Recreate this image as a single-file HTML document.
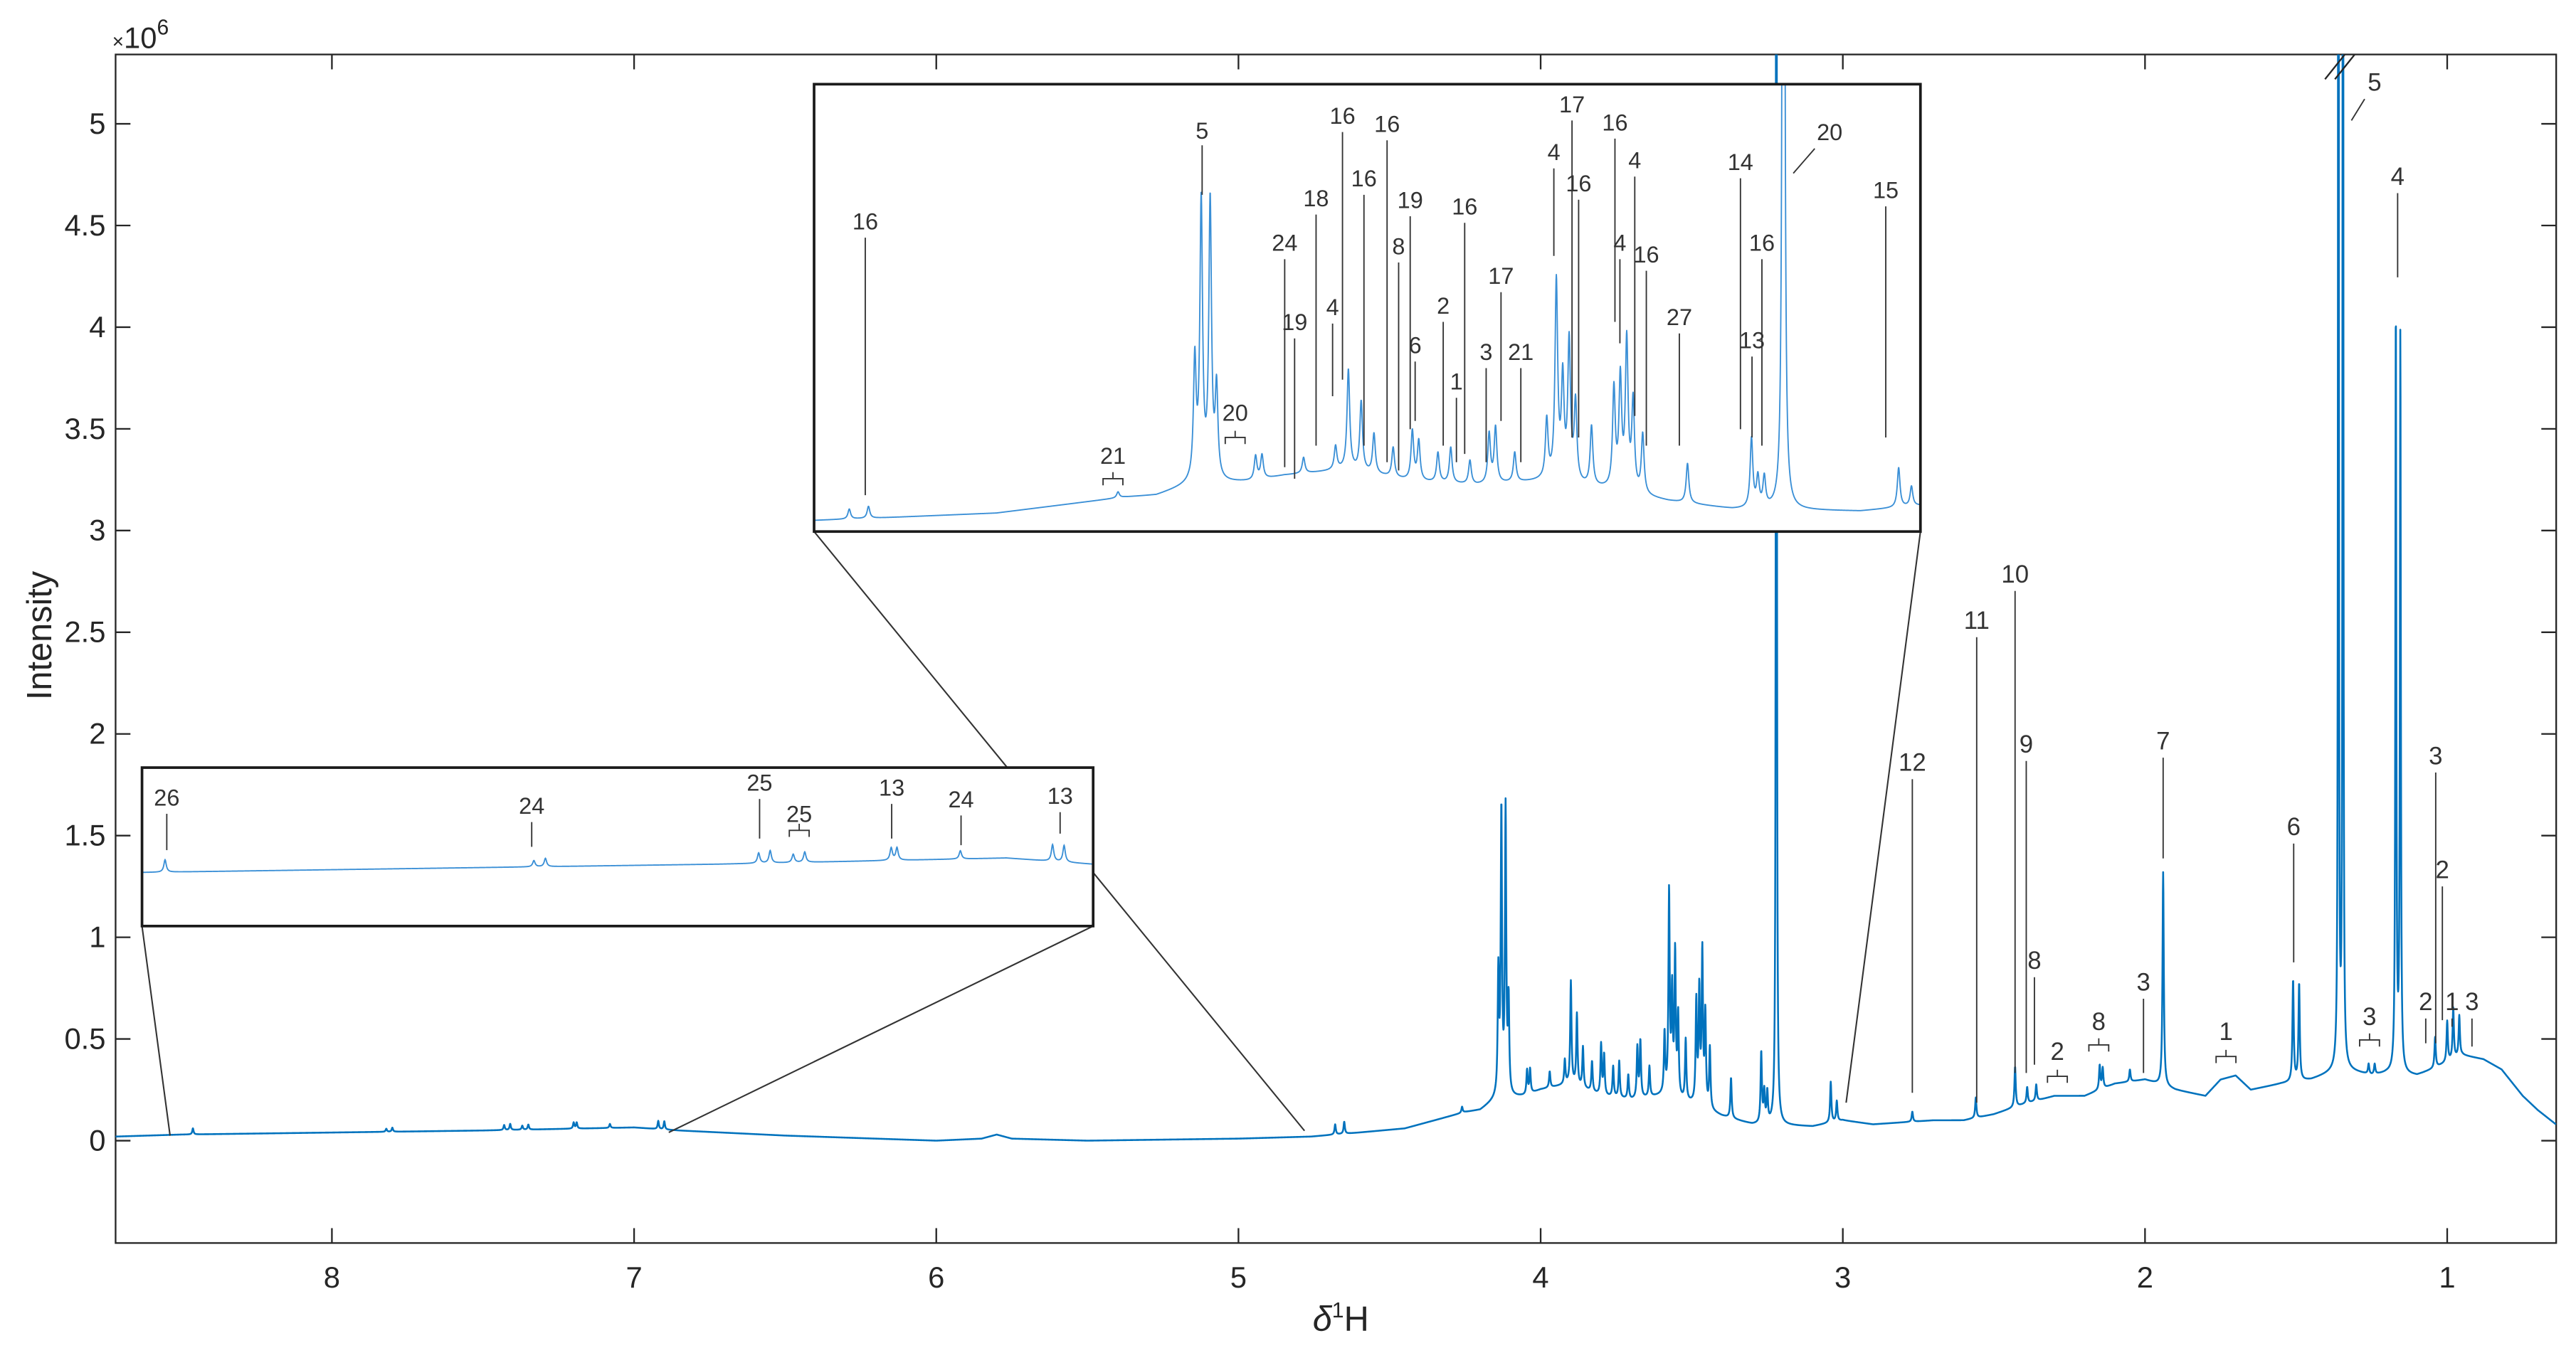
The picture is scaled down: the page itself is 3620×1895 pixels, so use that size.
<!DOCTYPE html>
<html><head><meta charset="utf-8"><title>1H NMR spectrum</title>
<style>
html,body{margin:0;padding:0;background:#fff}
svg{display:block}
text{font-family:"Liberation Sans",sans-serif;fill:#262626}
.ann{font-family:"Liberation Sans Narrow","Liberation Sans",sans-serif;fill:#333}
</style></head>
<body>
<svg id="chart" width="3620" height="1895" viewBox="0 0 1560 816.6" preserveAspectRatio="none" xmlns="http://www.w3.org/2000/svg">
<defs>
<clipPath id="mainClip"><rect x="70" y="33" width="1478" height="720"/></clipPath>
<clipPath id="topClip"><rect x="493" y="51" width="670" height="271"/></clipPath>
<clipPath id="botClip"><rect x="86" y="465" width="576" height="96"/></clipPath>
</defs>
<rect x="0" y="0" width="1560" height="816.6" fill="#fff"/>
<g id="axes"></g>
<g id="mainG" clip-path="url(#mainClip)"></g>
<g id="mainAnn"></g>
<g id="connectors"></g>
<g id="topInset"></g>
<g id="botInset"></g>
</svg>
<script>
// ---- data ----
const basePpm = [8.72,8.5,8.0,7.5,7.0,6.85,6.5,6.2,6.0,5.85,5.8,5.75,5.5,5.0,4.76,4.6,4.45,4.35,4.25,4.2,4.15,4.05,4.0,3.9,3.8,3.7,3.6,3.5,3.4,3.3,3.1,3.0,2.9,2.7,2.6,2.5,2.4,2.3,2.2,2.1,2.0,1.9,1.8,1.75,1.7,1.65,1.55,1.45,1.35,1.25,1.2,1.1,1.05,0.95,0.88,0.82,0.75,0.7,0.64];
const baseVal = [0.02,0.03,0.04,0.05,0.065,0.05,0.025,0.01,0.0,0.01,0.03,0.01,0.0,0.01,0.02,0.04,0.06,0.1,0.14,0.15,0.2,0.22,0.25,0.28,0.22,0.2,0.22,0.18,0.12,0.08,0.07,0.1,0.08,0.1,0.1,0.13,0.18,0.22,0.22,0.28,0.3,0.25,0.22,0.3,0.32,0.25,0.28,0.3,0.35,0.32,0.33,0.32,0.35,0.42,0.4,0.35,0.22,0.15,0.08];
const peakPpm = [8.46,7.82,7.8,7.43,7.41,7.37,7.35,7.2,7.19,7.08,6.92,6.9,
 4.68,4.65,4.26,4.14,4.13,4.116,4.106,4.045,4.035,3.97,3.92,3.90,3.88,3.86,3.83,3.80,3.79,3.76,3.74,3.71,3.68,3.67,3.64,
 3.59,3.575,3.565,3.555,3.545,3.52,3.485,3.475,3.465,3.455,3.44,3.37,3.27,3.26,3.25,3.22,3.04,3.02,
 2.77,2.56,2.43,2.39,2.36,2.15,2.14,2.05,1.94,1.51,1.49,1.36,1.345,1.26,1.24,1.17,1.155,1.04,1.0,0.98,0.96];
const peakHeight = [0.03,0.015,0.02,0.025,0.03,0.02,0.025,0.03,0.03,0.02,0.04,0.04,
 0.05,0.06,0.03,0.6,1.4,1.4,0.45,0.12,0.12,0.08,0.12,0.5,0.35,0.2,0.15,0.25,0.2,0.15,0.18,0.12,0.25,0.28,0.15,
 0.3,1.0,0.5,0.7,0.4,0.3,0.5,0.55,0.75,0.45,0.3,0.2,0.35,0.15,0.15,15,0.2,0.1,
 0.05,0.1,0.2,0.08,0.08,0.12,0.1,0.06,1.05,0.5,0.48,12,12,0.05,0.05,3.8,3.65,0.15,0.2,0.25,0.2];
const xTicks = [8,7,6,5,4,3,2,1];
const yTicks = [0,0.5,1,1.5,2,2.5,3,3.5,4,4.5,5];
const yTickLabels = ["0","0.5","1","1.5","2","2.5","3","3.5","4","4.5","5"];

// ---- scales ----
const NS="http://www.w3.org/2000/svg";
const xs = p => 201 + (8 - p) * 183;
const ys = v => 691 - v * 123.2;
const xt = p => 493 + (4.735 - p) * 387.5;
const yt = v => 318 - v * 120;
const xb = p => 86 + (8.5 - p) * 349;
const yb = v => 536 - v * 250;

function base(p){
  for(let i=0;i<basePpm.length-1;i++){
    if(p<=basePpm[i] && p>=basePpm[i+1]){
      const t=(basePpm[i]-p)/(basePpm[i]-basePpm[i+1]);
      return baseVal[i]+t*(baseVal[i+1]-baseVal[i]);
    }
  }
  return baseVal[baseVal.length-1];
}
function spec(p){
  let v=base(p);
  for(let i=0;i<peakPpm.length;i++){
    const w = peakHeight[i]>5?0.0011:(peakHeight[i]>2?0.0018:0.0025);
    const d=(p-peakPpm[i])/w;
    v+=peakHeight[i]/(1+d*d);
  }
  return v;
}
function el(tag,attrs,parent){
  const e=document.createElementNS(NS,tag);
  for(const k in attrs) e.setAttribute(k,attrs[k]);
  parent.appendChild(e); return e;
}
function pathFor(p0,p1,step,fx,fy){
  let d="";
  for(let p=p0;p>=p1;p-=step){
    d+=(d?"L":"M")+fx(p).toFixed(2)+","+fy(spec(p)).toFixed(2);
  }
  return d;
}

// ---- axes ----
const ax=document.getElementById('axes');
const frame=el('rect',{x:70,y:33,width:1478,height:720,fill:'none',stroke:'#262626','stroke-width':1},ax);


xTicks.forEach(t=>{
  const x=xs(t);
  const l=el('path',{d:`M${x},753V744M${x},33V42`,stroke:'#262626','stroke-width':1},ax);
  
  
  const tx=el('text',{x:x,y:780,'font-size':18,'text-anchor':'middle'},ax);
  tx.textContent=String(t);
  
  
});
yTicks.forEach((t,i)=>{
  const y=ys(t);
  const l=el('path',{d:`M70,${y}H79M1548,${y}H1539`,stroke:'#262626','stroke-width':1},ax);
  
  
  const tx=el('text',{x:64,y:y+6,'font-size':18,'text-anchor':'end'},ax);
  tx.textContent=yTickLabels[i];
  
  
});
const ex=el('text',{x:68,y:29,'font-size':18},ax);
ex.innerHTML='<tspan font-size="12">×</tspan>10<tspan dy="-8" font-size="13">6</tspan>';


const yl=el('text',{x:0,y:0,'font-size':21,'text-anchor':'middle',transform:'translate(31,385) rotate(-90)'},ax);
yl.textContent='Intensity';


const xl=el('text',{x:812,y:806,'font-size':21,'text-anchor':'middle'},ax);
xl.innerHTML='<tspan font-style="italic">δ</tspan><tspan dy="-8" font-size="13">1</tspan><tspan dy="8">H</tspan>';



// ---- main spectrum ----
const mg=document.getElementById('mainG');
const mp=el('path',{d:pathFor(8.72,0.64,0.0008,xs,ys),fill:'none',stroke:'#0072BD','stroke-width':1.1,'stroke-linejoin':'round'},mg);


// break marks
const br=el('path',{d:'M1408,48L1420,33M1414,48L1426,33',stroke:'#262626','stroke-width':1},document.getElementById('mainAnn'));



function annot(g,fx,p,label,ly,y1,y2,fs,type){
  const x=fx(p);
  const t=el('text',{x:x,y:ly,'font-size':fs,'text-anchor':'middle',class:'ann'},g);
  t.textContent=label;
  
  
  let d;
  if(type==='b'){ d=`M${x-6},${y1+4}V${y1}H${x+6}V${y1+4}M${x},${y1}V${y1-4}`; }
  else { d=`M${x},${y1}V${y2}`; }
  const l=el('path',{d:d,stroke:'#333','stroke-width':0.8,fill:'none'},g);
  
  
}
const ma=document.getElementById('mainAnn');
[[2.77,'12',467,472,662],[2.557,'11',381,386,668],[2.43,'10',353,358,650],[2.393,'9',456,461,650],[2.366,'8',587,592,645],
 [2.29,'2',642,652,0,'b'],[2.153,'8',624,633,0,'b'],[2.005,'3',600,605,650],[1.94,'7',454,459,520],[1.732,'1',630,640,0,'b'],
 [1.508,'6',506,511,583],[1.164,'4',112,117,168],[1.257,'3',621,630,0,'b'],[1.038,'3',463,468,632],[1.016,'2',532,537,618],
 [1.071,'2',612,617,632],[0.984,'1',612,617,622],[0.918,'3',612,617,634]
].forEach(a=>annot(ma,xs,a[0],a[1],a[2],a[3],a[4],15,a[5]));
const a5=el('text',{x:1438,y:55,'font-size':15,'text-anchor':'middle',class:'ann'},ma);
a5.textContent='5';


const a5l=el('path',{d:'M1432,60L1424,73',stroke:'#333','stroke-width':0.8},ma);



// ---- connectors ----
const cg=document.getElementById('connectors');
const cn=el('path',{d:'M493,322L790,685M1163,322L1118,668M86,561L103,688M662,561L405,686',stroke:'#333','stroke-width':0.9,fill:'none'},cg);



// ---- top inset ----
const tg=document.getElementById('topInset');
const tbg=el('rect',{x:493,y:51,width:670,height:271,fill:'#fff'},tg);


const tcl=el('g',{'clip-path':'url(#topClip)'},tg);
const tp=el('path',{d:pathFor(4.735,3.0,0.0004,xt,yt),fill:'none',stroke:'#3a8fd6','stroke-width':0.8,'stroke-linejoin':'round'},tcl);


const tfr=el('rect',{x:493,y:51,width:670,height:271,fill:'none',stroke:'#1a1a1a','stroke-width':1.6},tg);


const px=x=>4.735-(x-493)/387.5;
[[524,'16',139,144,300],[674,'21',281,290,0,'b'],[728,'5',84,88,118],[748,'20',255,265,0,'b'],[778,'24',152,157,283],
 [784,'19',200,205,290],[797,'18',125,130,270],[807,'4',191,196,240],[813,'16',75,80,230],[826,'16',113,118,270],
 [840,'16',80,85,280],[847,'8',154,159,285],[854,'19',126,131,260],[857,'6',214,219,255],[874,'2',190,195,270],
 [882,'1',236,241,280],[887,'16',130,135,275],[900,'3',218,223,280],[909,'17',172,177,255],[921,'21',218,223,280],
 [941,'4',97,102,155],[952,'17',68,73,265],[956,'16',116,121,265],[981,'4',152,157,208],[978,'16',79,84,195],
 [990,'4',102,107,252],[997,'16',159,164,270],[1017,'27',197,202,270],[1054,'14',103,108,260],[1061,'13',211,216,265],
 [1067,'16',152,157,270],[1142,'15',120,125,265]
].forEach(a=>annot(tg,xt,px(a[0]),a[1],a[2],a[3],a[4],14,a[5]));
const t20=el('text',{x:1108,y:85,'font-size':14,'text-anchor':'middle',class:'ann'},tg);
t20.textContent='20';


const t20l=el('path',{d:'M1099,90L1086,105',stroke:'#333','stroke-width':0.8},tg);



// ---- bottom inset ----
const bg=document.getElementById('botInset');
const bbg=el('rect',{x:86,y:465,width:576,height:96,fill:'#fff'},bg);


const bcl=el('g',{'clip-path':'url(#botClip)'},bg);
const bp=el('path',{d:pathFor(8.5,6.85,0.0005,xb,yb),fill:'none',stroke:'#3a8fd6','stroke-width':0.8},bcl);


const bfr=el('rect',{x:86,y:465,width:576,height:96,fill:'none',stroke:'#1a1a1a','stroke-width':1.6},bg);


const pb=x=>8.5-(x-86)/349;
[[101,'26',488,493,515],[322,'24',493,498,513],[460,'25',479,484,508],[484,'25',498,503,0,'b'],
 [540,'13',482,487,508],[582,'24',489,494,512],[642,'13',487,492,505]
].forEach(a=>annot(bg,xb,pb(a[0]),a[1],a[2],a[3],a[4],14,a[5]));
</script>
</body></html>
